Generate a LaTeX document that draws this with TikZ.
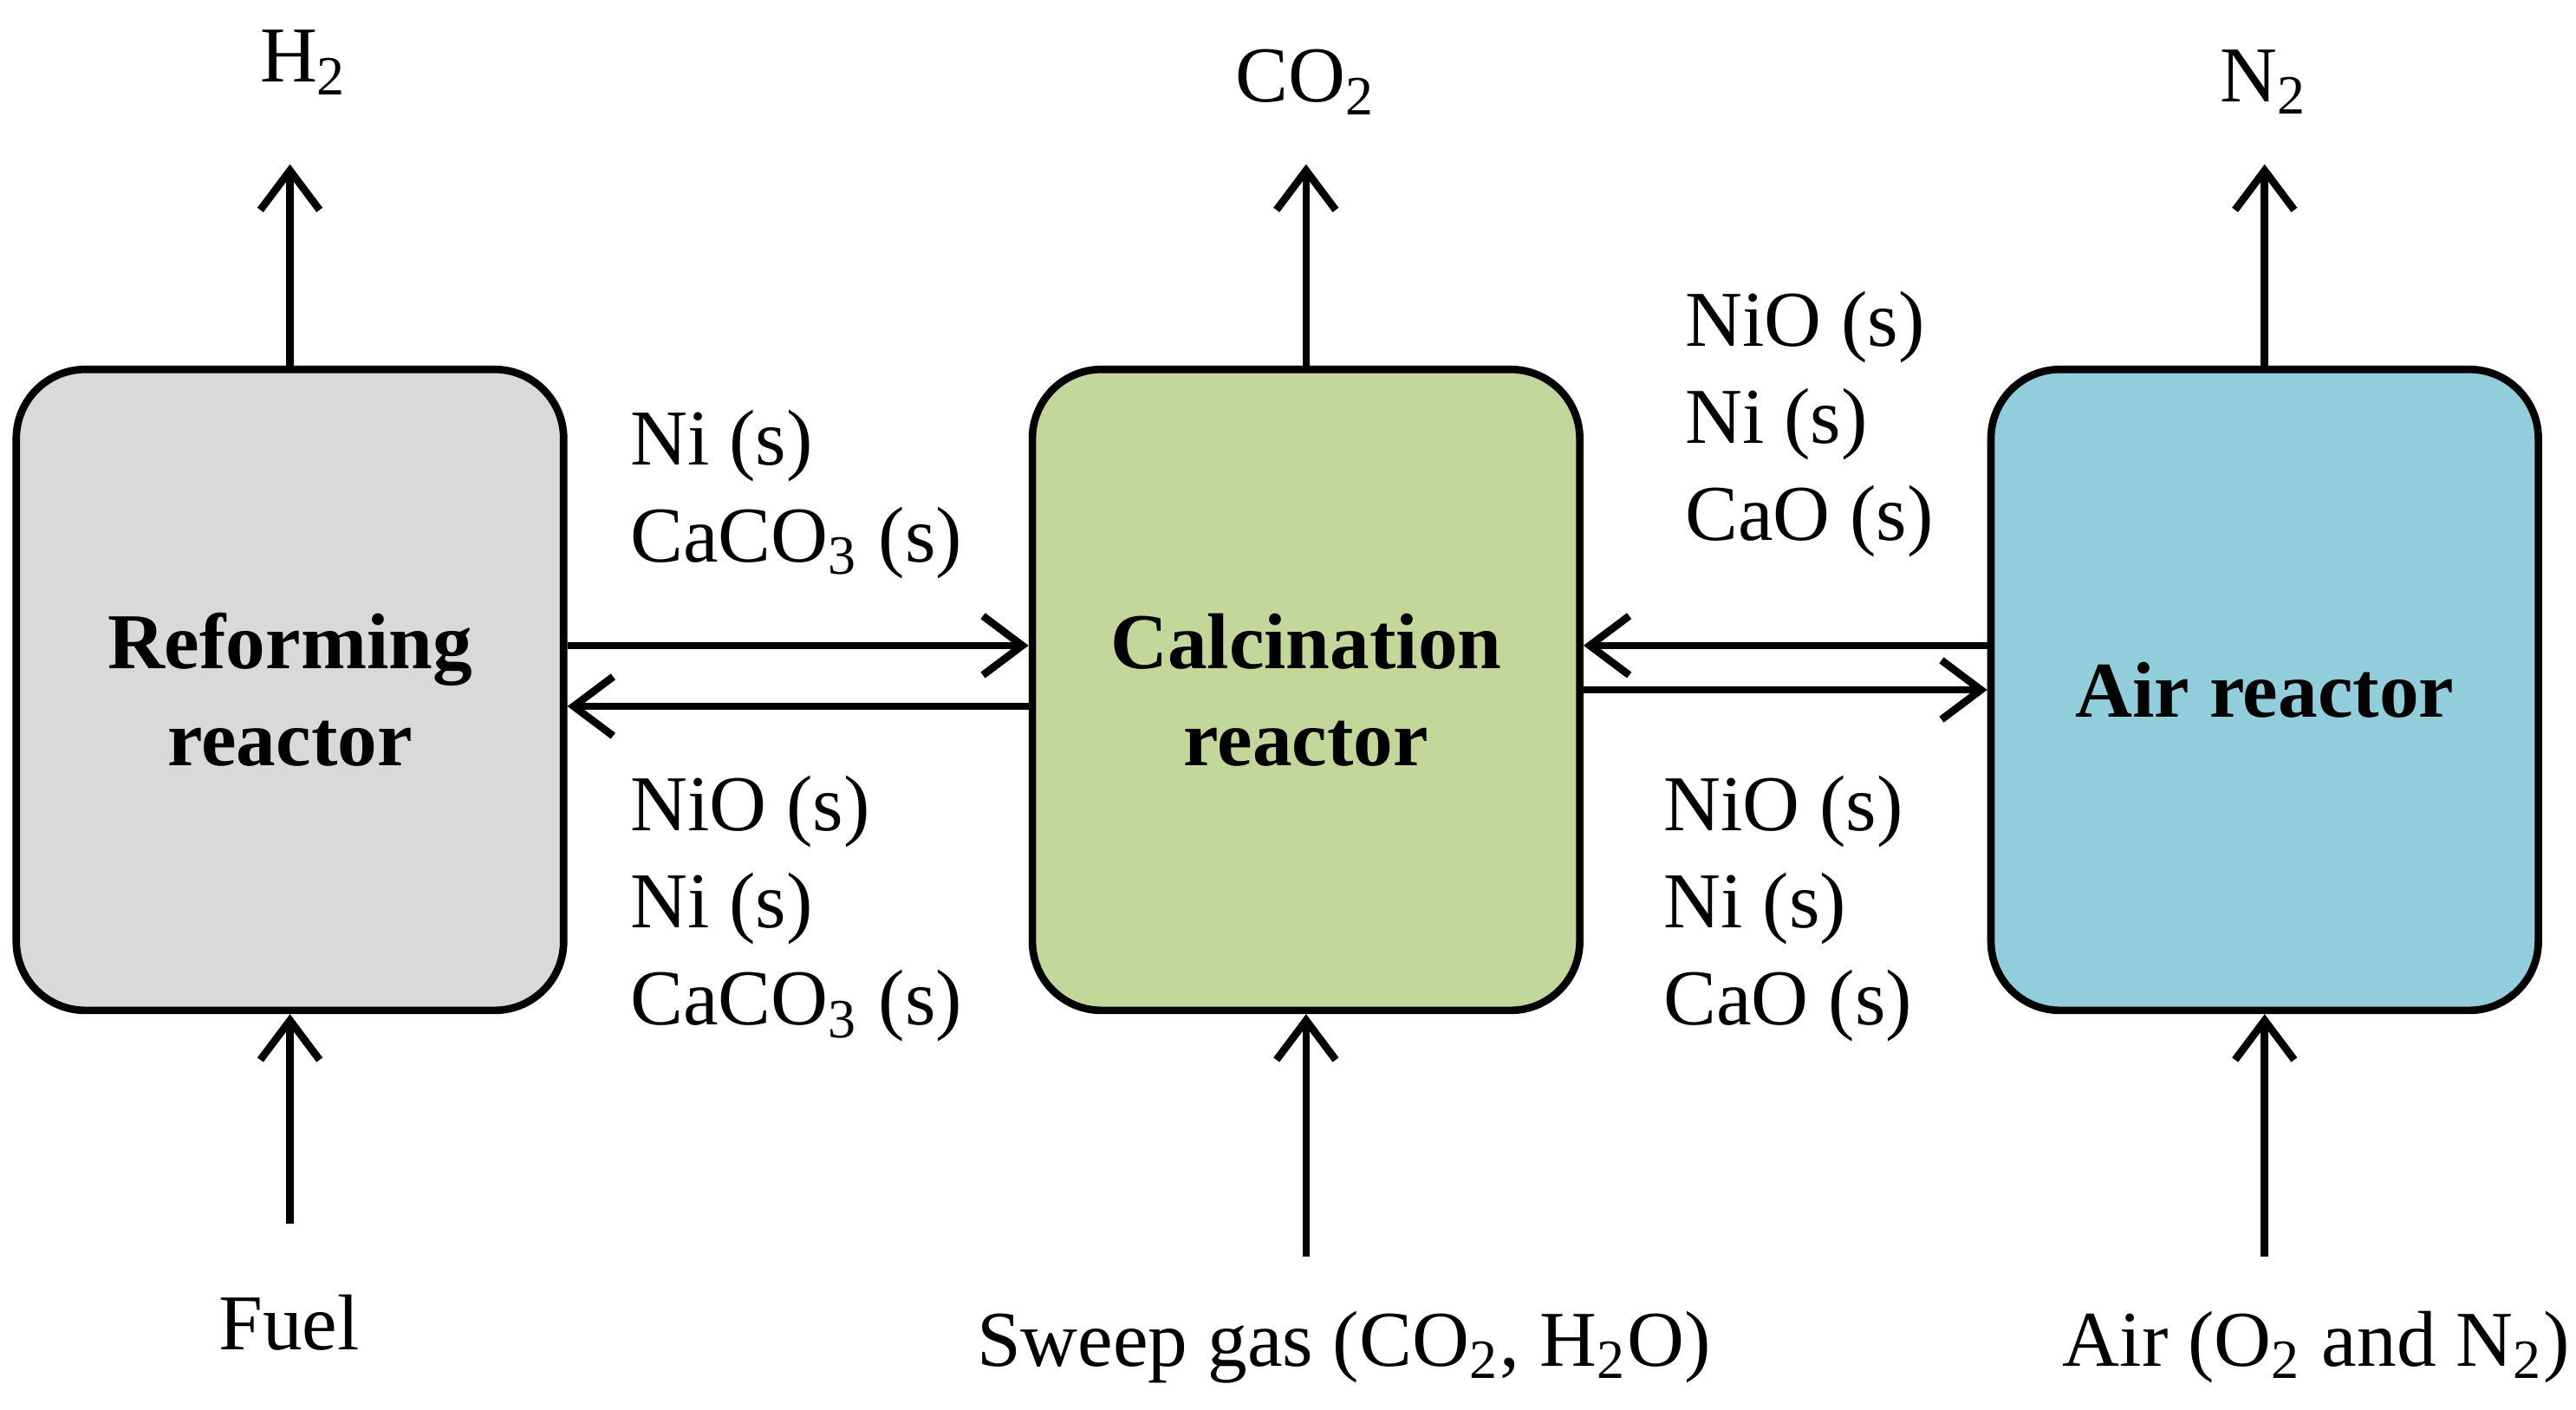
\documentclass[tikz,border=0pt]{standalone}
\usepackage{fontspec}
\setmainfont{Liberation Serif}
\usetikzlibrary{arrows.meta}
\begin{document}
\begin{tikzpicture}[x=0.01cm,y=-0.01cm,
  reactor/.style={draw=black,line width=1.3pt,rounded corners=0.42cm,minimum width=3.33cm,minimum height=3.9cm,font=\fontsize{13.7}{16.8}\selectfont\bfseries,align=center},
  flow/.style={line width=1.3pt,-{Straight Barb[length=2.4mm,width=3.6mm,line width=1.3pt]}},
  lbl/.style={font=\fontsize{13.7}{16.8}\selectfont,inner sep=0pt},
  spec/.style={lbl,align=left,anchor=base west}]
\useasboundingbox (0,0) rectangle (1568,858);
\definecolor{cgray}{HTML}{D9D9D9}
\definecolor{cgreen}{HTML}{C4D79B}
\definecolor{cblue}{HTML}{92CDDC}
\node[reactor,fill=cgray] (ref) at (176.5,420) {Reforming\\reactor};
\node[reactor,fill=cgreen] (cal) at (795,420) {Calcination\\reactor};
\node[reactor,fill=cblue] (air) at (1378.5,420) {Air reactor};
% top outputs
\node[lbl] (h2) at (185,38) {H\textsubscript{2}};
\node[lbl] (co2) at (795,50) {CO\textsubscript{2}};
\node[lbl] (n2) at (1378,50) {N\textsubscript{2}};
\coordinate (h2t) at (176.5,100);
\coordinate (co2t) at (795,100);
\coordinate (n2t) at (1378.5,100);
\draw[flow] (ref.north) -- (h2t);
\draw[flow] (cal.north) -- (co2t);
\draw[flow] (air.north) -- (n2t);
% bottom inputs
\node[lbl] (fuel) at (176,805) {Fuel};
\node[lbl] (sweep) at (818,820) {Sweep gas (CO\textsubscript{2}, H\textsubscript{2}O)};
\node[lbl] (airin) at (1410,820) {Air (O\textsubscript{2} and N\textsubscript{2})};
\coordinate (fb) at (176.5,745);
\coordinate (sb) at (795,765);
\coordinate (ab) at (1378.5,765);
\draw[flow] (fb) -- (ref.south);
\draw[flow] (sb) -- (cal.south);
\draw[flow] (ab) -- (air.south);
% horizontal
\draw[flow] (ref.east |- 0,393) -- (cal.west |- 0,393);
\draw[flow] (cal.west |- 0,430) -- (ref.east |- 0,430);
\draw[flow] (air.west |- 0,393) -- (cal.east |- 0,393);
\draw[flow] (cal.east |- 0,420) -- (air.west |- 0,420);
% species
\node[spec] (s1) at (383,342) {Ni (s)\\CaCO\textsubscript{3} (s)};
\node[spec] (s2) at (383,624) {NiO (s)\\Ni (s)\\CaCO\textsubscript{3} (s)};
\node[spec] (s3) at (1025,329) {NiO (s)\\Ni (s)\\CaO (s)};
\node[spec] (s4) at (1012,624) {NiO (s)\\Ni (s)\\CaO (s)};
\end{tikzpicture}
\end{document}
